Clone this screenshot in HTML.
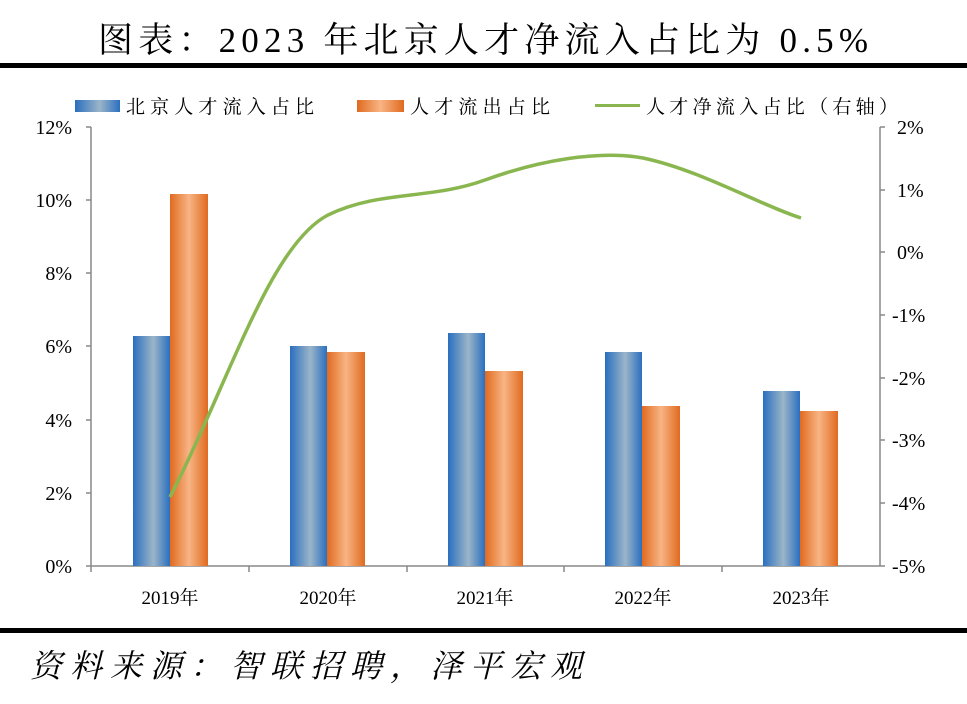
<!DOCTYPE html><html><head><meta charset="utf-8"><style>
body{margin:0;background:#fff;width:967px;height:699px;overflow:hidden;font-family:"Liberation Serif","Noto Serif CJK SC",serif}
</style></head><body>
<svg width="967" height="699" xmlns="http://www.w3.org/2000/svg" font-family="Liberation Serif, Noto Serif CJK SC, serif">
<defs>
<linearGradient id="b" x1="0" x2="1"><stop offset="0" stop-color="#2a6fc0"/><stop offset=".55" stop-color="#9bb5c8"/><stop offset="1" stop-color="#2a6fc0"/></linearGradient>
<linearGradient id="o" x1="0" x2="1"><stop offset="0" stop-color="#e06a20"/><stop offset=".5" stop-color="#f8b584"/><stop offset="1" stop-color="#e06a20"/></linearGradient>
</defs>
<text x="483" y="52" font-size="35" text-anchor="middle" textLength="770" lengthAdjust="spacing">图表：2023 年北京人才净流入占比为 0.5%</text>
<rect x="0" y="63" width="967" height="5" fill="#000"/>
<rect x="0" y="628" width="967" height="5" fill="#000"/>
<text x="30" y="677" font-size="32" font-style="italic" textLength="552" lengthAdjust="spacing">资料来源：智联招聘，泽平宏观</text>
<rect x="75" y="100" width="45" height="12" fill="url(#b)"/>
<text x="126" y="113" font-size="19" textLength="188" lengthAdjust="spacing">北京人才流入占比</text>
<rect x="357" y="100" width="47" height="12" fill="url(#o)"/>
<text x="410" y="113" font-size="19" textLength="140" lengthAdjust="spacing">人才流出占比</text>
<rect x="595" y="104" width="45" height="3" fill="#8ab650"/>
<text x="646" y="113" font-size="19" textLength="252" lengthAdjust="spacing">人才净流入占比（右轴）</text>
<g stroke="#888" stroke-width="1.5" fill="none">
<line x1="91" y1="127" x2="91" y2="566"/><line x1="880" y1="127" x2="880" y2="566"/>
<line x1="91" y1="566" x2="880" y2="566"/>
<line x1="86" y1="127" x2="91" y2="127"/><line x1="86" y1="200" x2="91" y2="200"/><line x1="86" y1="273" x2="91" y2="273"/><line x1="86" y1="346" x2="91" y2="346"/><line x1="86" y1="420" x2="91" y2="420"/><line x1="86" y1="493" x2="91" y2="493"/><line x1="86" y1="566" x2="91" y2="566"/>
<line x1="880" y1="127" x2="885" y2="127"/><line x1="880" y1="190" x2="885" y2="190"/><line x1="880" y1="252" x2="885" y2="252"/><line x1="880" y1="315" x2="885" y2="315"/><line x1="880" y1="378" x2="885" y2="378"/><line x1="880" y1="440" x2="885" y2="440"/><line x1="880" y1="503" x2="885" y2="503"/><line x1="880" y1="566" x2="885" y2="566"/>
<line x1="249" y1="566" x2="249" y2="572"/><line x1="407" y1="566" x2="407" y2="572"/><line x1="564" y1="566" x2="564" y2="572"/><line x1="722" y1="566" x2="722" y2="572"/><line x1="91" y1="566" x2="91" y2="572"/>
</g>
<g font-size="20" text-anchor="end">
<text x="72" y="134">12%</text><text x="72" y="207">10%</text><text x="72" y="280">8%</text><text x="72" y="353">6%</text><text x="72" y="427">4%</text><text x="72" y="500">2%</text><text x="72" y="573">0%</text>
</g>
<g font-size="20" text-anchor="start">
<text x="897" y="134">2%</text><text x="897" y="197">1%</text><text x="897" y="259">0%</text><text x="892" y="322">-1%</text><text x="892" y="385">-2%</text><text x="892" y="447">-3%</text><text x="892" y="510">-4%</text><text x="892" y="573">-5%</text>
</g>
<g font-size="19" text-anchor="middle">
<text x="170" y="604">2019年</text><text x="328" y="604">2020年</text><text x="485" y="604">2021年</text><text x="643" y="604">2022年</text><text x="801" y="604">2023年</text>
</g>
<g>
<rect x="133" y="336" width="37" height="230" fill="url(#b)"/><rect x="170" y="194" width="38" height="372" fill="url(#o)"/>
<rect x="290" y="346" width="37" height="220" fill="url(#b)"/><rect x="327" y="352" width="38" height="214" fill="url(#o)"/>
<rect x="448" y="333" width="37" height="233" fill="url(#b)"/><rect x="485" y="371" width="38" height="195" fill="url(#o)"/>
<rect x="605" y="352" width="37" height="214" fill="url(#b)"/><rect x="642" y="406" width="38" height="160" fill="url(#o)"/>
<rect x="763" y="391" width="37" height="175" fill="url(#b)"/><rect x="800" y="411" width="38" height="155" fill="url(#o)"/>
</g>
<path d="M170,497 C230,380 270,245 328,215 C380,190 430,200 485,180 C540,160 600,150 643,158 C700,170 760,205 801,218" fill="none" stroke="#8ab650" stroke-width="3.5"/>
</svg>
</body></html>
